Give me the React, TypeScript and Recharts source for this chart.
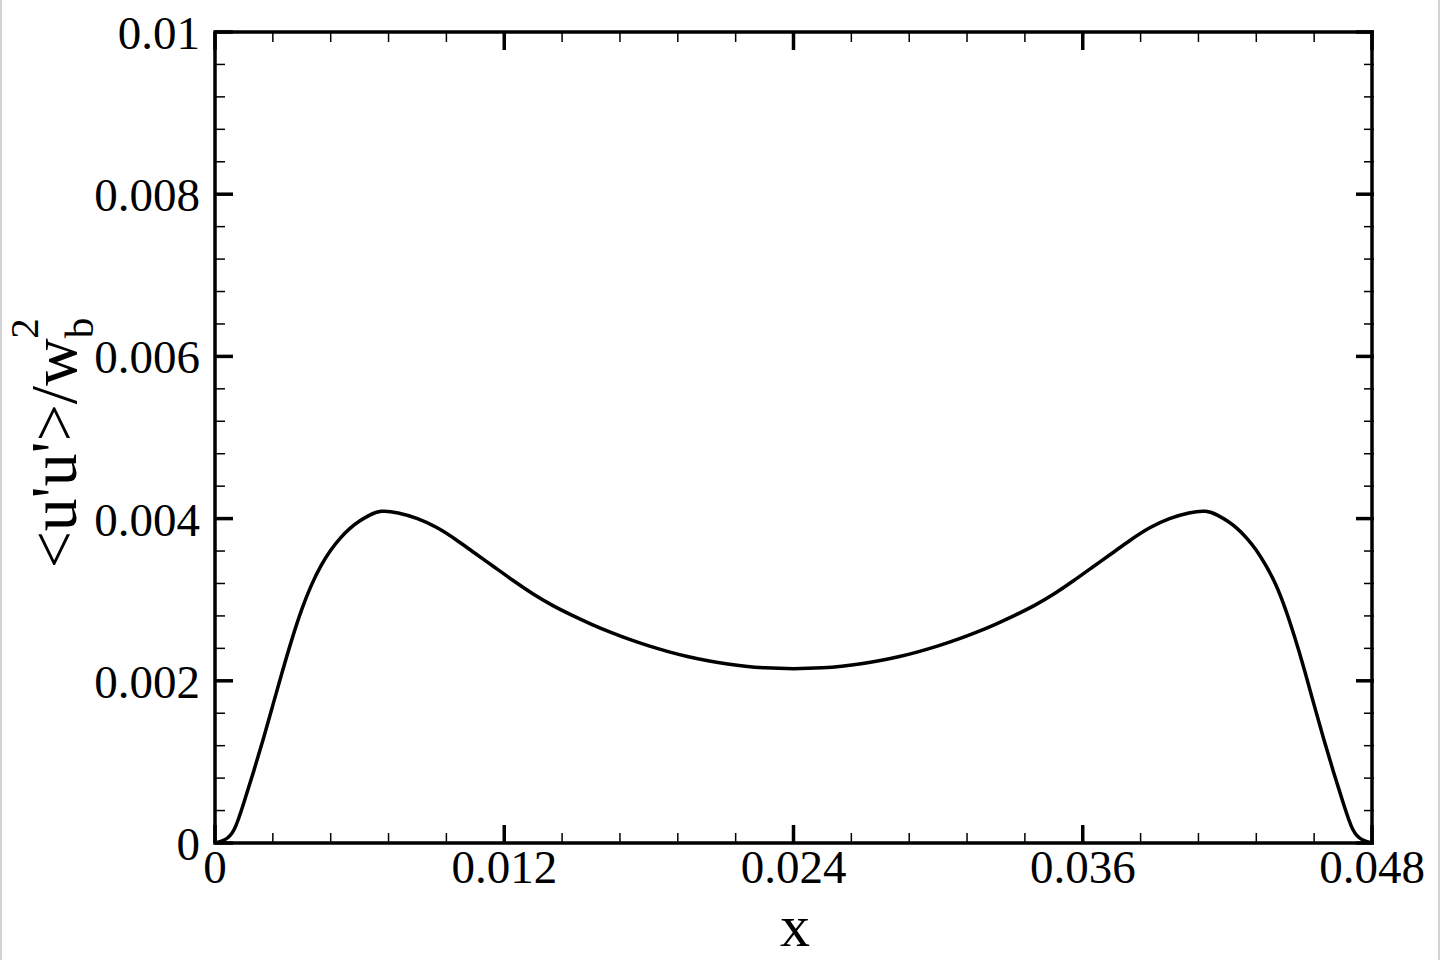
import { Line, LineChart, ReferenceArea, XAxis, YAxis } from "recharts";

// curve samples
const xValues = [
  0, 0.0004, 0.0008, 0.0012, 0.0016, 0.002, 0.0024, 0.0028, 0.0032, 0.0036,
  0.004, 0.0044, 0.0048, 0.0052, 0.0056, 0.006, 0.0064, 0.0069, 0.0076, 0.0084,
  0.0092, 0.01, 0.0108, 0.0116, 0.0124, 0.0132, 0.014, 0.0148, 0.0156, 0.0164,
  0.0172, 0.018, 0.0188, 0.0196, 0.0204, 0.0212, 0.022, 0.0228, 0.024, 0.0252,
  0.026, 0.0268, 0.0276, 0.0284, 0.0292, 0.03, 0.0308, 0.0316, 0.0324, 0.0332,
  0.034, 0.0348, 0.0356, 0.0364, 0.0372, 0.038, 0.0388, 0.0396, 0.0404, 0.0411,
  0.0416, 0.042, 0.0424, 0.0428, 0.0432, 0.0436, 0.044, 0.0444, 0.0448, 0.0452,
  0.0456, 0.046, 0.0464, 0.0468, 0.0472, 0.0476, 0.048,
];
const uuValues = [
  0, 0.00004, 0.00017, 0.0005, 0.00088, 0.00128, 0.0017, 0.00212, 0.00252, 0.00288,
  0.00318, 0.00342, 0.00361, 0.00376, 0.00388, 0.00397, 0.00404, 0.00409, 0.00407, 0.004,
  0.00389, 0.00374, 0.00357, 0.0034, 0.00323, 0.00307, 0.00293, 0.00281, 0.0027, 0.0026,
  0.00251, 0.00243, 0.00236, 0.0023, 0.00225, 0.00221, 0.00218, 0.00216, 0.00215, 0.00216,
  0.00218, 0.00221, 0.00225, 0.0023, 0.00236, 0.00243, 0.00251, 0.0026, 0.0027, 0.00281,
  0.00293, 0.00307, 0.00323, 0.0034, 0.00357, 0.00374, 0.00389, 0.004, 0.00407, 0.00409,
  0.00404, 0.00397, 0.00388, 0.00376, 0.00361, 0.00342, 0.00319, 0.00289, 0.00253, 0.00213,
  0.0017, 0.00128, 0.00088, 0.0005, 0.00017, 0.00004, 0,
];

const xTicks = [
  0, 0.0024, 0.0048, 0.0072, 0.0096, 0.012, 0.0144, 0.0168, 0.0192, 0.0216, 0.024,
  0.0264, 0.0288, 0.0312, 0.0336, 0.036, 0.0384, 0.0408, 0.0432, 0.0456, 0.048,
];
const xMajor = [0, 0.012, 0.024, 0.036, 0.048];
const xLabels = ["0", "0.012", "0.024", "0.036", "0.048"];

const yTicks = [
  0, 0.0004, 0.0008, 0.0012, 0.0016, 0.002, 0.0024, 0.0028, 0.0032, 0.0036, 0.004,
  0.0044, 0.0048, 0.0052, 0.0056, 0.006, 0.0064, 0.0068, 0.0072, 0.0076, 0.008,
  0.0084, 0.0088, 0.0092, 0.0096, 0.01,
];
const yMajor = [0, 0.002, 0.004, 0.006, 0.008, 0.01];
const yLabels = ["0", "0.002", "0.004", "0.006", "0.008", "0.01"];

const data = xValues.map((x, i) => ({ x, y: uuValues[i] }));

const FONT = "Liberation Serif";
const PLOT_W = 1159;
const PLOT_H = 811;

const majorIndex = (v: number, majors: number[]) =>
  majors.findIndex((m) => Math.abs(m - v) < 1e-9);

const XTick = (props: any) => {
  const { x, y, payload } = props;
  const idx = majorIndex(payload.value, xMajor);
  const major = idx >= 0;
  const len = major ? 18 : 10;
  const sw = major ? 3.5 : 1.5;
  return (
    <g>
      <line x1={x} x2={x} y1={y} y2={y - len} stroke="#000" strokeWidth={sw} />
      <line x1={x} x2={x} y1={y - PLOT_H} y2={y - PLOT_H + len} stroke="#000" strokeWidth={sw} />
      {major && (
        <text x={x} y={y + 40} textAnchor="middle" fontFamily={FONT} fontSize={47} fill="#000">
          {xLabels[idx]}
        </text>
      )}
    </g>
  );
};

const YTick = (props: any) => {
  const { x, y, payload } = props;
  const idx = majorIndex(payload.value, yMajor);
  const major = idx >= 0;
  const len = major ? 18 : 10;
  const sw = major ? 3.5 : 1.5;
  return (
    <g>
      <line x1={x} x2={x + len} y1={y} y2={y} stroke="#000" strokeWidth={sw} />
      <line x1={x + PLOT_W} x2={x + PLOT_W - len} y1={y} y2={y} stroke="#000" strokeWidth={sw} />
      {major && (
        <text x={x - 15} y={y + 17} textAnchor="end" fontFamily={FONT} fontSize={47} fill="#000">
          {yLabels[idx]}
        </text>
      )}
    </g>
  );
};

export default function App() {
  return (
    <div
      style={{
        position: "absolute",
        left: 0,
        top: 0,
        width: 1440,
        height: 960,
        background: "#fff",
        boxSizing: "border-box",
        borderLeft: "2px solid #d4d4d4",
        borderRight: "2px solid #d4d4d4",
      }}
    >
      <LineChart
        width={1436}
        height={960}
        data={data}
        margin={{ top: 32, right: 64, bottom: 0, left: 98 }}
        style={{ position: "absolute", left: -2, top: 0 }}
      >
        <XAxis
          dataKey="x"
          type="number"
          domain={[0, 0.048]}
          ticks={xTicks}
          interval={0}
          tickSize={0}
          tickMargin={0}
          axisLine={false}
          tickLine={false}
          tick={<XTick />}
          height={117}
          allowDataOverflow
        />
        <YAxis
          type="number"
          domain={[0, 0.01]}
          ticks={yTicks}
          interval={0}
          tickSize={0}
          tickMargin={0}
          axisLine={false}
          tickLine={false}
          tick={<YTick />}
          width={117}
          allowDataOverflow
        />
        <ReferenceArea
          x1={0}
          x2={0.048}
          y1={0}
          y2={0.01}
          fill="none"
          stroke="#000"
          strokeWidth={3.5}
          ifOverflow="visible"
        />
        <Line
          dataKey="y"
          type="natural"
          stroke="#000"
          strokeWidth={3.5}
          dot={false}
          activeDot={false}
          isAnimationActive={false}
        />
        <text
          x={795}
          y={946}
          textAnchor="middle"
          fontFamily={FONT}
          fontSize={60}
          fill="#000"
        >
          x
        </text>
        <text
          transform="translate(76, 443) rotate(-90)"
          textAnchor="middle"
          fontFamily={FONT}
          fontSize={66}
          fill="#000"
        >
          {"<u'u'>/w"}
          <tspan fontSize={41} dy={17}>b</tspan>
          <tspan fontSize={41} dx={-21} dy={-55}>2</tspan>
        </text>
      </LineChart>
    </div>
  );
}
